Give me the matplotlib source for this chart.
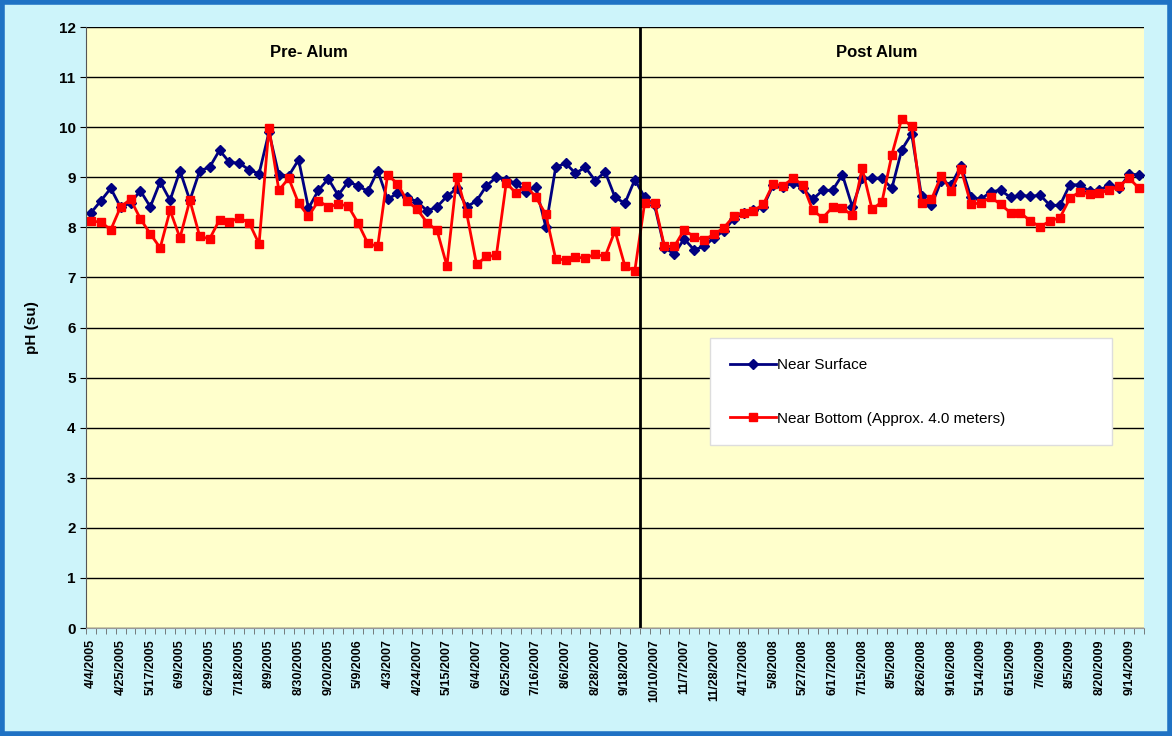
import matplotlib
matplotlib.use("Agg")
import matplotlib.pyplot as plt
import numpy as np
from matplotlib.patches import Rectangle

plt.rcParams['font.family'] = ['Liberation Sans', 'DejaVu Sans']

# pH, near surface (blue) i near bottom (red), one value per sampling date
near_surface = [8.29, 8.53, 8.78, 8.40, 8.49, 8.73, 8.41, 8.91, 8.54, 9.13,
                8.54, 9.13, 9.20, 9.54, 9.30, 9.28, 9.15, 9.07, 9.90, 9.05,
                9.03, 9.35, 8.38, 8.74, 8.97, 8.64, 8.91, 8.83, 8.72, 9.13,
                8.56, 8.68, 8.60, 8.51, 8.33, 8.41, 8.62, 8.78, 8.41, 8.53,
                8.83, 9.00, 8.95, 8.88, 8.71, 8.80, 8.01, 9.20, 9.28, 9.08,
                9.20, 8.93, 9.11, 8.60, 8.48, 8.95, 8.60, 8.44, 7.59, 7.47,
                7.77, 7.55, 7.62, 7.79, 7.93, 8.17, 8.28, 8.34, 8.41, 8.85,
                8.80, 8.89, 8.78, 8.56, 8.74, 8.74, 9.05, 8.41, 8.98, 8.98,
                8.98, 8.78, 9.55, 9.87, 8.62, 8.44, 8.93, 8.85, 9.23, 8.60,
                8.56, 8.71, 8.74, 8.60, 8.64, 8.62, 8.64, 8.44, 8.44, 8.85,
                8.85, 8.72, 8.74, 8.85, 8.78, 9.06, 9.05]
near_bottom = [8.12, 8.11, 7.95, 8.41, 8.56, 8.17, 7.87, 7.59, 8.34, 7.79,
               8.54, 7.82, 7.77, 8.15, 8.11, 8.19, 8.09, 7.67, 9.99, 8.74,
               8.98, 8.48, 8.22, 8.53, 8.41, 8.46, 8.43, 8.09, 7.68, 7.62,
               9.05, 8.87, 8.52, 8.36, 8.09, 7.94, 7.23, 9.01, 8.28, 7.26,
               7.42, 7.44, 8.89, 8.68, 8.83, 8.60, 8.26, 7.37, 7.35, 7.40,
               7.39, 7.46, 7.42, 7.93, 7.23, 7.13, 8.49, 8.49, 7.62, 7.62,
               7.95, 7.81, 7.75, 7.86, 7.99, 8.22, 8.29, 8.33, 8.46, 8.87,
               8.83, 8.98, 8.85, 8.34, 8.19, 8.40, 8.38, 8.24, 9.18, 8.36,
               8.51, 9.45, 10.17, 10.02, 8.49, 8.56, 9.03, 8.73, 9.16, 8.46,
               8.49, 8.60, 8.46, 8.29, 8.29, 8.13, 8.01, 8.13, 8.19, 8.58,
               8.71, 8.66, 8.69, 8.74, 8.83, 8.98, 8.78]

# oznake na x osi (vsaka tretja meritev)
date_labels = ['4/4/2005', '4/25/2005', '5/17/2005', '6/9/2005', '6/29/2005',
               '7/18/2005', '8/9/2005', '8/30/2005', '9/20/2005', '5/9/2006',
               '4/3/2007', '4/24/2007', '5/15/2007', '6/4/2007', '6/25/2007',
               '7/16/2007', '8/6/2007', '8/28/2007', '9/18/2007', '10/10/2007',
               '11/7/2007', '11/28/2007', '4/17/2008', '5/8/2008', '5/27/2008',
               '6/17/2008', '7/15/2008', '8/5/2008', '8/26/2008', '9/16/2008',
               '5/14/2009', '6/15/2009', '7/6/2009', '8/5/2009', '8/20/2009',
               '9/14/2009']
label_step = 3
n_pre = 56   # prve meritve pred dodajanjem aluminija

x = np.arange(len(near_surface))

fig = plt.figure(figsize=(11.72, 7.36), dpi=100, facecolor='#cdf4fa')
ax = fig.add_axes([0.0734, 0.1467, 0.9027, 0.8166])
ax.set_facecolor('#ffffcc')

# okvir okoli cele slike
fig.patches.append(Rectangle((0.002, 0.003), 0.996, 0.994, transform=fig.transFigure,
                             fill=False, edgecolor='#1f72c4', linewidth=4))

ax.plot(x, near_surface, color='#000080', marker='D', markersize=5.5, linewidth=2,
        label='Near Surface')
ax.plot(x, near_bottom, color='#ff0000', marker='s', markersize=6, linewidth=2,
        label='Near Bottom (Approx. 4.0 meters)')

ax.axvline(n_pre - 0.5, color='k', linewidth=2)

ax.set_xlim(-0.5, len(x) - 0.5)
ax.set_ylim(0, 12)
ax.set_yticks(np.arange(0, 13, 1))
ax.yaxis.grid(True, color='k', linewidth=1)
ax.set_axisbelow(True)

ax.set_xticks(np.arange(0, len(x), label_step)[:len(date_labels)])
ax.set_xticklabels(date_labels, rotation=90, fontsize=9, fontweight='bold')
ax.set_xticks(np.arange(-0.5, len(x), 1), minor=True)
ax.tick_params(axis='x', which='major', length=0, pad=8)
ax.tick_params(axis='x', which='minor', length=4, color='#666666')
ax.tick_params(axis='y', labelsize=11, length=4)
for t in ax.get_yticklabels():
    t.set_fontweight('bold')

for s in ['top', 'right']:
    ax.spines[s].set_visible(False)
ax.spines['left'].set_color('#555555')
ax.spines['bottom'].set_color('#999999')

ax.set_ylabel('pH (su)', fontsize=11, fontweight='bold', labelpad=14)

ax.text(22, 11.5, 'Pre- Alum', fontsize=12, fontweight='bold', ha='center', va='center')
ax.text(79.5, 11.5, 'Post Alum', fontsize=12, fontweight='bold', ha='center', va='center')

leg = ax.legend(loc='upper left', bbox_to_anchor=(0.590, 0.2995, 0.380, 0.183), mode='expand',
                fontsize=11, frameon=True, fancybox=False, edgecolor='#dddddd',
                facecolor='white', framealpha=1, handlelength=3.0, handletextpad=0.1,
                borderpad=1.3, labelspacing=2.6, borderaxespad=0)

plt.savefig('out.png', dpi=100, facecolor=fig.get_facecolor())
